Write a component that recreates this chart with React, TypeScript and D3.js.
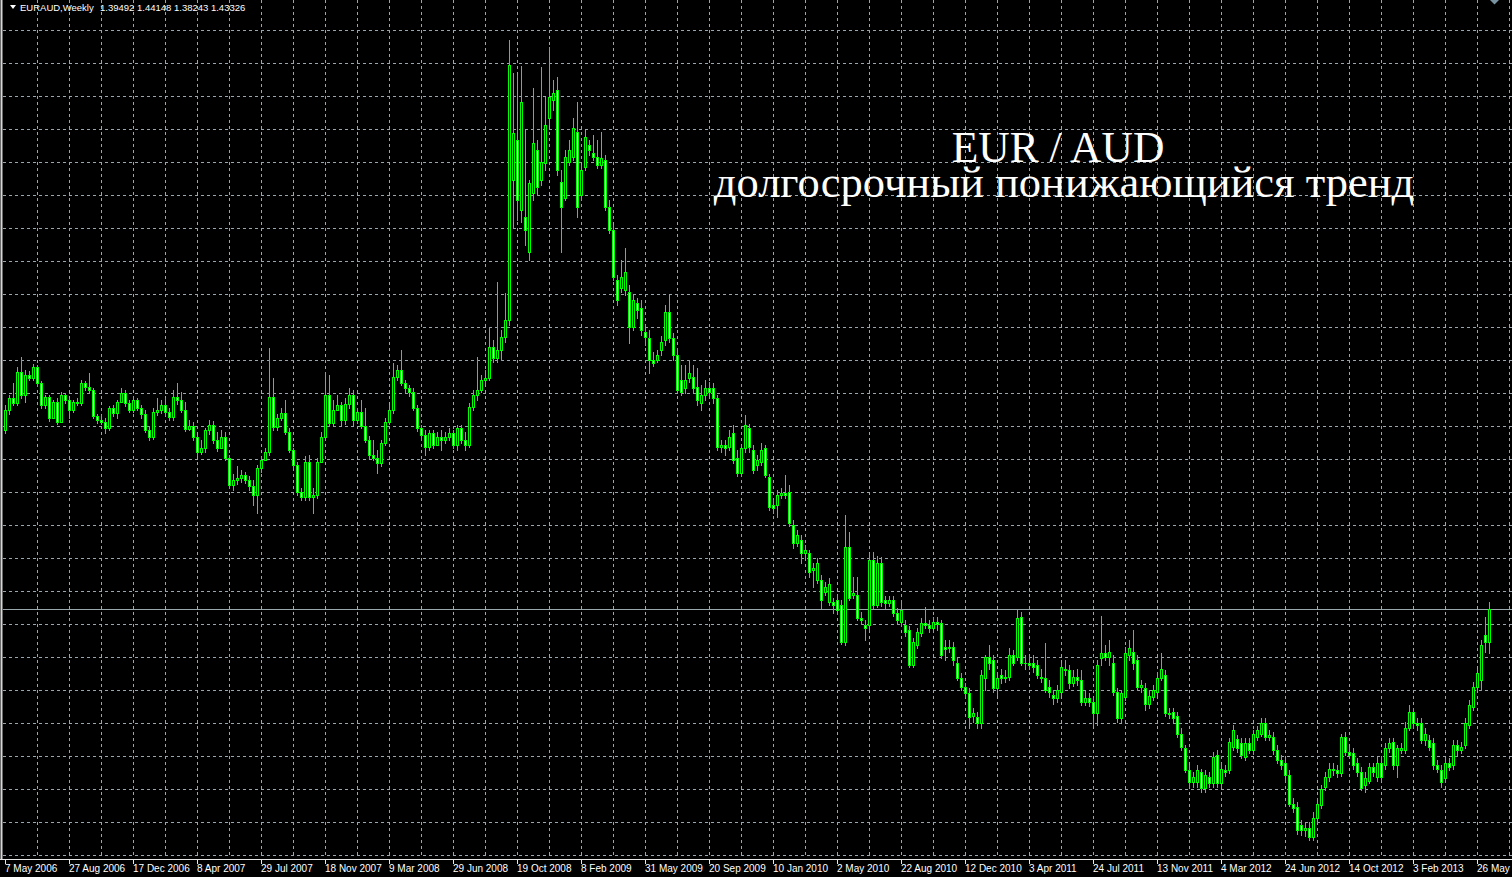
import React from 'react';
import * as d3 from 'd3';

const W = 1512;
const H = 877;

const symbol = 'EURAUD,Weekly';
const title = 'EUR / AUD';
const subtitle = 'долгосрочный понижающийся тренд';

// one label every 16 weekly bars, starting at the first bar
const dateLabels = [
  '7 May 2006', '27 Aug 2006', '17 Dec 2006', '8 Apr 2007', '29 Jul 2007', '18 Nov 2007',
  '9 Mar 2008', '29 Jun 2008', '19 Oct 2008', '8 Feb 2009', '31 May 2009', '20 Sep 2009',
  '10 Jan 2010', '2 May 2010', '22 Aug 2010', '12 Dec 2010', '3 Apr 2011', '24 Jul 2011',
  '13 Nov 2011', '4 Mar 2012', '24 Jun 2012', '14 Oct 2012', '3 Feb 2013', '26 May 2013',
];
const labelStep = 16;

// weekly EURAUD candles
const opens = [
  1.643, 1.666, 1.680, 1.674, 1.711, 1.684, 1.707, 1.704, 1.717, 1.698,
  1.672, 1.681, 1.657, 1.676, 1.652, 1.684, 1.678, 1.666, 1.676, 1.674,
  1.698, 1.693, 1.690, 1.659, 1.655, 1.652, 1.645, 1.669, 1.663, 1.676,
  1.686, 1.674, 1.666, 1.678, 1.669, 1.662, 1.643, 1.635, 1.664, 1.666,
  1.672, 1.664, 1.658, 1.681, 1.678, 1.666, 1.644, 1.648, 1.635, 1.617,
  1.622, 1.643, 1.649, 1.631, 1.622, 1.635, 1.610, 1.579, 1.584, 1.587,
  1.590, 1.584, 1.577, 1.567, 1.598, 1.608, 1.617, 1.681, 1.646, 1.657,
  1.663, 1.641, 1.620, 1.602, 1.570, 1.565, 1.605, 1.565, 1.567, 1.605,
  1.635, 1.684, 1.651, 1.666, 1.672, 1.655, 1.673, 1.684, 1.655, 1.664,
  1.648, 1.631, 1.614, 1.610, 1.604, 1.628, 1.652, 1.666, 1.705, 1.713,
  1.698, 1.692, 1.687, 1.669, 1.645, 1.637, 1.623, 1.639, 1.625, 1.635,
  1.631, 1.635, 1.639, 1.625, 1.645, 1.631, 1.625, 1.670, 1.684, 1.690,
  1.701, 1.704, 1.740, 1.727, 1.737, 1.752, 1.772, 1.935, 1.982, 1.900,
  1.892, 1.851, 1.920, 1.970, 1.935, 1.955, 2.008, 2.029, 2.041, 1.933,
  1.914, 1.956, 1.962, 1.992, 1.918, 1.951, 1.976, 1.967, 1.962, 1.953,
  1.959, 1.904, 1.877, 1.818, 1.809, 1.807, 1.804, 1.763, 1.791, 1.786,
  1.758, 1.751, 1.725, 1.725, 1.737, 1.748, 1.781, 1.751, 1.731, 1.701,
  1.692, 1.704, 1.705, 1.693, 1.674, 1.684, 1.692, 1.692, 1.680, 1.623,
  1.625, 1.623, 1.639, 1.610, 1.593, 1.622, 1.645, 1.620, 1.602, 1.605,
  1.622, 1.588, 1.555, 1.555, 1.567, 1.569, 1.570, 1.532, 1.511, 1.514,
  1.499, 1.499, 1.479, 1.467, 1.467, 1.453, 1.442, 1.442, 1.444, 1.438,
  1.395, 1.506, 1.450, 1.450, 1.423, 1.415, 1.415, 1.491, 1.438, 1.487,
  1.444, 1.441, 1.444, 1.429, 1.418, 1.415, 1.409, 1.368, 1.391, 1.405,
  1.417, 1.415, 1.411, 1.418, 1.417, 1.389, 1.389, 1.389, 1.371, 1.353,
  1.342, 1.335, 1.309, 1.307, 1.300, 1.353, 1.377, 1.374, 1.341, 1.356,
  1.353, 1.354, 1.380, 1.377, 1.424, 1.371, 1.370, 1.370, 1.368, 1.354,
  1.353, 1.342, 1.333, 1.329, 1.336, 1.364, 1.362, 1.347, 1.354, 1.350,
  1.325, 1.329, 1.325, 1.312, 1.376, 1.382, 1.377, 1.371, 1.336, 1.306,
  1.331, 1.380, 1.383, 1.374, 1.342, 1.341, 1.323, 1.331, 1.336, 1.353,
  1.357, 1.312, 1.313, 1.308, 1.288, 1.271, 1.245, 1.231, 1.231, 1.243,
  1.224, 1.237, 1.230, 1.263, 1.230, 1.245, 1.245, 1.272, 1.281, 1.277,
  1.260, 1.277, 1.269, 1.284, 1.288, 1.300, 1.284, 1.284, 1.269, 1.257,
  1.253, 1.239, 1.206, 1.202, 1.181, 1.175, 1.177, 1.167, 1.189, 1.204,
  1.225, 1.237, 1.247, 1.245, 1.242, 1.284, 1.266, 1.265, 1.253, 1.243,
  1.228, 1.233, 1.249, 1.237, 1.254, 1.251, 1.271, 1.278, 1.251, 1.269,
  1.269, 1.294, 1.313, 1.300, 1.300, 1.280, 1.280, 1.277, 1.251, 1.245,
  1.236, 1.253, 1.251, 1.274, 1.269, 1.274, 1.298, 1.319, 1.342, 1.350,
  1.403, 1.39492,
];

const highs = [
  1.672, 1.684, 1.698, 1.717, 1.728, 1.713, 1.712, 1.720, 1.719, 1.700,
  1.684, 1.684, 1.678, 1.680, 1.687, 1.686, 1.680, 1.678, 1.680, 1.701,
  1.700, 1.710, 1.692, 1.662, 1.660, 1.657, 1.671, 1.672, 1.678, 1.692,
  1.690, 1.678, 1.683, 1.680, 1.672, 1.666, 1.648, 1.669, 1.680, 1.678,
  1.680, 1.669, 1.690, 1.698, 1.687, 1.676, 1.655, 1.652, 1.637, 1.631,
  1.645, 1.655, 1.653, 1.641, 1.643, 1.641, 1.614, 1.591, 1.601, 1.596,
  1.594, 1.589, 1.584, 1.602, 1.611, 1.622, 1.739, 1.704, 1.662, 1.669,
  1.678, 1.645, 1.622, 1.605, 1.575, 1.612, 1.614, 1.575, 1.610, 1.641,
  1.711, 1.707, 1.678, 1.684, 1.676, 1.680, 1.692, 1.690, 1.669, 1.678,
  1.669, 1.636, 1.631, 1.620, 1.631, 1.657, 1.672, 1.721, 1.719, 1.737,
  1.701, 1.696, 1.692, 1.672, 1.649, 1.643, 1.643, 1.643, 1.641, 1.643,
  1.641, 1.645, 1.643, 1.649, 1.649, 1.641, 1.674, 1.690, 1.728, 1.707,
  1.713, 1.763, 1.748, 1.816, 1.760, 1.803, 2.099, 2.061, 2.058, 2.069,
  1.994, 1.935, 2.043, 1.982, 2.068, 2.033, 2.091, 2.052, 2.056, 1.947,
  1.970, 1.982, 2.008, 2.027, 1.953, 1.994, 1.982, 1.988, 1.982, 1.992,
  1.965, 1.912, 1.883, 1.824, 1.842, 1.856, 1.813, 1.801, 1.797, 1.795,
  1.766, 1.760, 1.734, 1.737, 1.753, 1.789, 1.801, 1.756, 1.739, 1.719,
  1.719, 1.725, 1.719, 1.715, 1.696, 1.701, 1.699, 1.698, 1.684, 1.631,
  1.631, 1.643, 1.649, 1.620, 1.625, 1.660, 1.650, 1.625, 1.614, 1.628,
  1.625, 1.591, 1.561, 1.573, 1.575, 1.590, 1.579, 1.538, 1.526, 1.520,
  1.508, 1.503, 1.488, 1.493, 1.473, 1.465, 1.470, 1.446, 1.450, 1.444,
  1.543, 1.524, 1.471, 1.471, 1.430, 1.421, 1.499, 1.500, 1.496, 1.494,
  1.449, 1.449, 1.449, 1.435, 1.444, 1.421, 1.414, 1.400, 1.411, 1.423,
  1.436, 1.421, 1.424, 1.424, 1.421, 1.397, 1.397, 1.395, 1.376, 1.359,
  1.347, 1.341, 1.318, 1.313, 1.362, 1.380, 1.391, 1.380, 1.360, 1.364,
  1.362, 1.388, 1.386, 1.433, 1.430, 1.380, 1.380, 1.380, 1.374, 1.364,
  1.394, 1.350, 1.339, 1.345, 1.371, 1.374, 1.368, 1.362, 1.364, 1.362,
  1.339, 1.335, 1.329, 1.374, 1.426, 1.391, 1.397, 1.380, 1.341, 1.339,
  1.389, 1.397, 1.409, 1.380, 1.350, 1.347, 1.339, 1.345, 1.360, 1.382,
  1.362, 1.318, 1.318, 1.313, 1.294, 1.274, 1.251, 1.243, 1.251, 1.247,
  1.245, 1.243, 1.266, 1.269, 1.254, 1.251, 1.283, 1.298, 1.286, 1.283,
  1.283, 1.283, 1.292, 1.297, 1.306, 1.306, 1.292, 1.290, 1.274, 1.263,
  1.259, 1.245, 1.212, 1.208, 1.187, 1.183, 1.184, 1.196, 1.212, 1.228,
  1.243, 1.254, 1.253, 1.251, 1.288, 1.290, 1.272, 1.271, 1.259, 1.249,
  1.243, 1.254, 1.254, 1.260, 1.260, 1.277, 1.283, 1.283, 1.274, 1.277,
  1.301, 1.321, 1.318, 1.306, 1.306, 1.294, 1.286, 1.283, 1.257, 1.251,
  1.259, 1.259, 1.280, 1.280, 1.278, 1.306, 1.327, 1.348, 1.364, 1.397,
  1.424, 1.44148,
];

const lows = [
  1.639, 1.662, 1.672, 1.672, 1.680, 1.676, 1.701, 1.701, 1.694, 1.669,
  1.669, 1.653, 1.658, 1.650, 1.652, 1.674, 1.657, 1.664, 1.672, 1.672,
  1.690, 1.687, 1.657, 1.651, 1.650, 1.639, 1.643, 1.659, 1.657, 1.676,
  1.671, 1.664, 1.664, 1.666, 1.657, 1.641, 1.631, 1.632, 1.660, 1.663,
  1.660, 1.655, 1.655, 1.673, 1.664, 1.642, 1.643, 1.631, 1.614, 1.615,
  1.617, 1.638, 1.628, 1.618, 1.622, 1.608, 1.575, 1.573, 1.580, 1.582,
  1.581, 1.573, 1.555, 1.546, 1.594, 1.608, 1.614, 1.643, 1.643, 1.655,
  1.638, 1.617, 1.598, 1.567, 1.561, 1.561, 1.561, 1.546, 1.563, 1.608,
  1.631, 1.648, 1.649, 1.666, 1.649, 1.650, 1.669, 1.649, 1.651, 1.645,
  1.629, 1.610, 1.608, 1.593, 1.601, 1.625, 1.650, 1.663, 1.701, 1.696,
  1.687, 1.683, 1.666, 1.642, 1.631, 1.614, 1.620, 1.622, 1.625, 1.620,
  1.628, 1.631, 1.622, 1.620, 1.628, 1.620, 1.623, 1.666, 1.678, 1.687,
  1.697, 1.701, 1.722, 1.722, 1.725, 1.746, 1.766, 1.880, 1.889, 1.886,
  1.859, 1.842, 1.912, 1.918, 1.930, 1.947, 2.000, 2.017, 1.941, 1.851,
  1.912, 1.953, 1.959, 1.892, 1.912, 1.947, 1.965, 1.959, 1.949, 1.949,
  1.900, 1.873, 1.818, 1.789, 1.804, 1.801, 1.745, 1.760, 1.774, 1.754,
  1.742, 1.710, 1.718, 1.722, 1.731, 1.742, 1.746, 1.725, 1.687, 1.684,
  1.686, 1.699, 1.687, 1.672, 1.666, 1.678, 1.684, 1.674, 1.620, 1.617,
  1.614, 1.620, 1.604, 1.589, 1.589, 1.617, 1.617, 1.593, 1.596, 1.602,
  1.588, 1.549, 1.546, 1.541, 1.563, 1.563, 1.531, 1.505, 1.507, 1.488,
  1.493, 1.471, 1.459, 1.464, 1.435, 1.450, 1.438, 1.429, 1.428, 1.393,
  1.391, 1.444, 1.446, 1.421, 1.416, 1.397, 1.409, 1.435, 1.436, 1.437,
  1.435, 1.437, 1.425, 1.416, 1.414, 1.402, 1.366, 1.366, 1.388, 1.402,
  1.411, 1.407, 1.407, 1.409, 1.376, 1.374, 1.383, 1.368, 1.350, 1.339,
  1.331, 1.295, 1.301, 1.295, 1.295, 1.339, 1.364, 1.336, 1.333, 1.347,
  1.348, 1.350, 1.368, 1.374, 1.368, 1.364, 1.364, 1.360, 1.353, 1.348,
  1.336, 1.331, 1.323, 1.325, 1.333, 1.356, 1.341, 1.343, 1.345, 1.321,
  1.321, 1.320, 1.298, 1.298, 1.368, 1.374, 1.368, 1.333, 1.301, 1.301,
  1.327, 1.374, 1.364, 1.339, 1.336, 1.315, 1.318, 1.327, 1.333, 1.350,
  1.308, 1.306, 1.301, 1.284, 1.269, 1.243, 1.226, 1.226, 1.226, 1.219,
  1.219, 1.225, 1.226, 1.225, 1.225, 1.238, 1.242, 1.269, 1.266, 1.259,
  1.257, 1.265, 1.264, 1.280, 1.285, 1.280, 1.280, 1.264, 1.253, 1.247,
  1.233, 1.203, 1.196, 1.171, 1.169, 1.168, 1.163, 1.163, 1.184, 1.201,
  1.222, 1.233, 1.239, 1.237, 1.238, 1.263, 1.259, 1.247, 1.238, 1.222,
  1.219, 1.230, 1.238, 1.233, 1.233, 1.247, 1.266, 1.247, 1.237, 1.265,
  1.265, 1.292, 1.295, 1.292, 1.277, 1.274, 1.269, 1.247, 1.243, 1.225,
  1.231, 1.245, 1.247, 1.263, 1.265, 1.271, 1.294, 1.315, 1.339, 1.339,
  1.383, 1.38243,
];

const closes = [
  1.666, 1.680, 1.674, 1.711, 1.684, 1.707, 1.704, 1.717, 1.698, 1.672,
  1.681, 1.657, 1.676, 1.652, 1.684, 1.678, 1.666, 1.676, 1.674, 1.698,
  1.693, 1.690, 1.659, 1.655, 1.652, 1.645, 1.669, 1.663, 1.676, 1.686,
  1.674, 1.666, 1.678, 1.669, 1.662, 1.643, 1.635, 1.664, 1.666, 1.672,
  1.664, 1.658, 1.681, 1.678, 1.666, 1.644, 1.648, 1.635, 1.617, 1.622,
  1.643, 1.649, 1.631, 1.622, 1.635, 1.610, 1.579, 1.584, 1.587, 1.590,
  1.584, 1.577, 1.567, 1.598, 1.608, 1.617, 1.681, 1.646, 1.657, 1.663,
  1.641, 1.620, 1.602, 1.570, 1.565, 1.605, 1.565, 1.567, 1.605, 1.635,
  1.684, 1.651, 1.666, 1.672, 1.655, 1.673, 1.684, 1.655, 1.664, 1.648,
  1.631, 1.614, 1.610, 1.604, 1.628, 1.652, 1.666, 1.705, 1.713, 1.698,
  1.692, 1.687, 1.669, 1.645, 1.637, 1.623, 1.639, 1.625, 1.635, 1.631,
  1.635, 1.639, 1.625, 1.645, 1.631, 1.625, 1.670, 1.684, 1.690, 1.701,
  1.704, 1.740, 1.727, 1.737, 1.752, 1.772, 2.070, 1.990, 1.912, 2.027,
  1.877, 1.932, 1.979, 1.927, 1.956, 2.000, 2.033, 2.037, 1.947, 1.904,
  1.962, 1.970, 1.996, 1.904, 1.947, 1.986, 1.970, 1.962, 1.953, 1.961,
  1.904, 1.877, 1.822, 1.795, 1.822, 1.828, 1.763, 1.795, 1.783, 1.760,
  1.752, 1.725, 1.721, 1.731, 1.746, 1.781, 1.751, 1.731, 1.690, 1.687,
  1.701, 1.710, 1.692, 1.678, 1.684, 1.692, 1.687, 1.680, 1.623, 1.625,
  1.622, 1.635, 1.608, 1.593, 1.622, 1.649, 1.623, 1.596, 1.608, 1.620,
  1.590, 1.553, 1.552, 1.567, 1.569, 1.567, 1.534, 1.511, 1.520, 1.499,
  1.503, 1.477, 1.481, 1.488, 1.444, 1.459, 1.463, 1.438, 1.432, 1.395,
  1.506, 1.447, 1.452, 1.423, 1.421, 1.411, 1.491, 1.438, 1.487, 1.442,
  1.441, 1.444, 1.429, 1.421, 1.432, 1.407, 1.368, 1.395, 1.407, 1.417,
  1.415, 1.411, 1.418, 1.416, 1.380, 1.387, 1.388, 1.374, 1.353, 1.342,
  1.335, 1.307, 1.312, 1.300, 1.356, 1.377, 1.370, 1.341, 1.353, 1.353,
  1.354, 1.380, 1.371, 1.423, 1.371, 1.370, 1.368, 1.366, 1.356, 1.353,
  1.339, 1.336, 1.329, 1.339, 1.366, 1.362, 1.347, 1.354, 1.350, 1.325,
  1.329, 1.325, 1.312, 1.368, 1.382, 1.377, 1.383, 1.336, 1.306, 1.335,
  1.382, 1.388, 1.370, 1.342, 1.345, 1.323, 1.332, 1.339, 1.353, 1.364,
  1.312, 1.311, 1.306, 1.288, 1.272, 1.245, 1.231, 1.237, 1.245, 1.224,
  1.239, 1.230, 1.260, 1.230, 1.247, 1.243, 1.278, 1.292, 1.271, 1.263,
  1.277, 1.269, 1.287, 1.292, 1.300, 1.284, 1.286, 1.269, 1.257, 1.251,
  1.239, 1.206, 1.201, 1.175, 1.175, 1.177, 1.167, 1.189, 1.206, 1.223,
  1.237, 1.247, 1.245, 1.242, 1.284, 1.266, 1.263, 1.251, 1.243, 1.224,
  1.236, 1.249, 1.243, 1.254, 1.237, 1.271, 1.277, 1.251, 1.271, 1.271,
  1.294, 1.313, 1.300, 1.298, 1.280, 1.288, 1.272, 1.251, 1.247, 1.231,
  1.253, 1.249, 1.274, 1.269, 1.272, 1.300, 1.321, 1.342, 1.359, 1.391,
  1.395, 1.43326,
];

const LIME = '#00ff00';
const GRID = '#9aa6ae';
const FONT = '"Liberation Sans", Arial, sans-serif';
const SERIF = '"Liberation Serif", "Times New Roman", serif';

export default function App() {
  const n = closes.length;
  const last = n - 1;

  // 4px per weekly bar, first bar at x=5
  const x = d3.scaleLinear().domain([0, last]).range([5, 5 + 4 * last]);
  // price axis: bottom grid line .. top grid line
  const y = d3.scaleLinear().domain([1.1459, 2.1108]).range([855, 30]);

  const gridStep = (2.1108 - 1.1459) / 25;
  const hGrid = d3.range(26).map((k) => 1.1459 + k * gridStep);
  const vGrid = d3.range(1, 48).map((k) => x(k * 8));

  const px = (v: number) => Math.round(v) + 0.5;

  const quote = [opens[last], highs[last], lows[last], closes[last]]
    .map((v) => v.toFixed(5))
    .join(' ');

  return (
    <>
      <style>{'body{margin:0;background:#000;overflow:hidden}'}</style>
      <svg width={W} height={H} style={{ display: 'block', background: '#000' }}>
        <rect x={0} y={0} width={W} height={H} fill="#000" />

        {/* grid */}
        <g stroke={GRID} strokeWidth={1} strokeDasharray="3,3" shapeRendering="crispEdges">
          {hGrid.map((p, k) => (
            <line key={'h' + k} x1={3} x2={W} y1={px(y(p))} y2={px(y(p))} />
          ))}
          {vGrid.map((gx, k) => (
            <line key={'v' + k} x1={px(gx)} x2={px(gx)} y1={0} y2={858} />
          ))}
        </g>

        {/* bid line */}
        <line
          x1={3}
          x2={W}
          y1={px(y(closes[last]))}
          y2={px(y(closes[last]))}
          stroke="#9aa8ac"
          strokeWidth={1}
          shapeRendering="crispEdges"
        />

        {/* candles */}
        <g shapeRendering="crispEdges">
          {closes.map((c, i) => {
            const o = opens[i];
            const cx = px(x(i));
            const hi = Math.max(highs[i], o, c);
            const lo = Math.min(lows[i], o, c);
            const top = Math.round(y(Math.max(o, c)));
            const bot = Math.round(y(Math.min(o, c)));
            const bull = c > o;
            return (
              <g key={i}>
                <line x1={cx} x2={cx} y1={Math.round(y(hi))} y2={Math.round(y(lo)) + 1} stroke={LIME} />
                {bot - top < 1 ? (
                  <line x1={cx - 1.5} x2={cx + 1.5} y1={top + 0.5} y2={top + 0.5} stroke={LIME} />
                ) : (
                  <rect
                    x={cx - 1}
                    y={top + 0.5}
                    width={2}
                    height={bot - top}
                    fill={bull ? '#000' : '#ffffff'}
                    stroke={LIME}
                    strokeWidth={1}
                  />
                )}
              </g>
            );
          })}
        </g>

        {/* frame + time axis */}
        <line x1={1.5} x2={1.5} y1={0} y2={859} stroke="#d8d8d8" strokeWidth={2} />
        <line x1={0} x2={W} y1={859.5} y2={859.5} stroke="#e8e8e8" strokeWidth={1} />
        <rect x={0} y={860} width={W} height={H - 860} fill="#000" />
        {dateLabels.map((lab, k) => {
          const tx = px(x(k * labelStep));
          return (
            <g key={lab}>
              <line x1={tx} x2={tx} y1={859} y2={864} stroke="#e8e8e8" shapeRendering="crispEdges" />
              <text x={tx - 0.5} y={872} fill="#ffffff" fontSize={10} fontFamily={FONT}>
                {lab}
              </text>
            </g>
          );
        })}

        {/* header */}
        <path d="M10,5 L16,5 L13,9 Z" fill="#ffffff" />
        <text x={20} y={11} fill="#ffffff" fontSize={9.5} fontFamily={FONT}>
          {symbol}
        </text>
        <text x={100} y={11} fill="#ffffff" fontSize={9.5} fontFamily={FONT}>
          {quote}
        </text>
        <path d="M1490,0 L1499,0 L1494.5,4.5 Z" fill="#7a93a3" />

        {/* annotation */}
        <text x={1058} y={162} textAnchor="middle" fill="#ffffff" fontSize={43.5} fontFamily={SERIF}>
          {title}
        </text>
        <text x={1064} y={197} textAnchor="middle" fill="#ffffff" fontSize={44.5} fontFamily={SERIF}>
          {subtitle}
        </text>
      </svg>
    </>
  );
}
